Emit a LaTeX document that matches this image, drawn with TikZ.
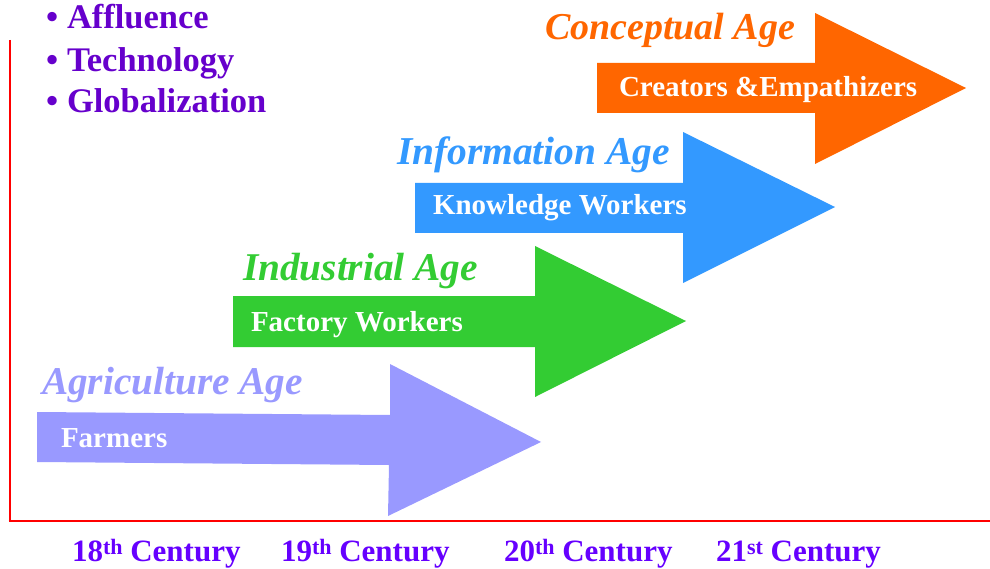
\documentclass[tikz,border=0pt]{standalone}
\usepackage{fontspec}
\usepackage{graphicx}
\setmainfont{Liberation Serif}
\newfontfamily\agefont{Liberation Serif}
\definecolor{agriC}{HTML}{9999FF}
\definecolor{induC}{HTML}{33CC33}
\definecolor{infoC}{HTML}{3399FF}
\definecolor{concC}{HTML}{FF6600}
\definecolor{bulletC}{HTML}{6600CC}
\definecolor{centC}{HTML}{6600FF}
\definecolor{axisC}{HTML}{FF0000}
% italic age title stretched to a given width
\newcommand\agetitle[2]{\resizebox{#1}{!}{\agefont\bfseries\itshape\fontsize{37}{40}\selectfont #2}}
% ordinal suffix raised above the baseline
\newcommand\ordsuf[1]{\raisebox{6.5pt}{\fontsize{22}{24}\selectfont #1}}
\begin{document}
\begin{tikzpicture}[x=1pt,y=-1pt,
  txt/.style={inner sep=0pt,outer sep=0pt,anchor=base west},
  worker/.style={txt,text=white,font=\bfseries\fontsize{29}{32}\selectfont},
  bulletitem/.style={txt,text=bulletC,font=\bfseries\fontsize{34.5}{38}\selectfont},
  century/.style={txt,text=centC,font=\bfseries\fontsize{31}{34}\selectfont},
  axisline/.style={draw=axisC,line width=2.6pt}]
\useasboundingbox (0,0) rectangle (990,569);

% axes
\draw[axisline] (10,40) -- (10,521);
\draw[axisline] (8.7,521) -- (990,521);

% age arrows
\fill[agriC] (37,412) -- (390,415) -- (390,364) -- (541,442) -- (388,516) -- (389,465) -- (37,462) -- cycle;
\fill[induC] (233,296) -- (535,296) -- (535,246) -- (686,321) -- (535,397) -- (535,347) -- (233,347) -- cycle;
\fill[infoC] (415,183) -- (683,183) -- (683,132) -- (835,207) -- (683,283) -- (683,233) -- (415,233) -- cycle;
\fill[concC] (597,63) -- (815,63) -- (815,13) -- (966,88) -- (815,164) -- (815,113) -- (597,113) -- cycle;

% age titles
\node[txt,text=agriC] (tAgri) at (42,394) {\agetitle{261pt}{Agriculture Age}};
\node[txt,text=induC] (tIndu) at (243,280) {\agetitle{235pt}{Industrial Age}};
\node[txt,text=infoC] (tInfo) at (397,165) {\agetitle{273pt}{Information Age}};
\node[txt,text=concC] (tConc) at (545,40) {\agetitle{250pt}{Conceptual Age}};

% workers on the shafts
\node[worker] (wAgri) at (61,447) {Farmers};
\node[worker] (wIndu) at (251,331) {Factory Workers};
\node[worker] (wInfo) at (433,215) {Knowledge Workers};
\node[worker] (wConc) at (619,97) {Creators \&Empathizers};

% drivers
\node[bulletitem] (b1) at (46,29) {•};
\node[bulletitem] (d1) at (67,29) {Affluence};
\node[bulletitem] (b2) at (46,72) {•};
\node[bulletitem] (d2) at (67,72) {Technology};
\node[bulletitem] (b3) at (46,113) {•};
\node[bulletitem] (d3) at (67,113) {Globalization};

% time axis labels
\node[century] (c18) at (72,561) {18\ordsuf{th} Century};
\node[century] (c19) at (281,561) {19\ordsuf{th} Century};
\node[century] (c20) at (504,561) {20\ordsuf{th} Century};
\node[century] (c21) at (716,561) {21\ordsuf{st} Century};
\end{tikzpicture}
\end{document}
